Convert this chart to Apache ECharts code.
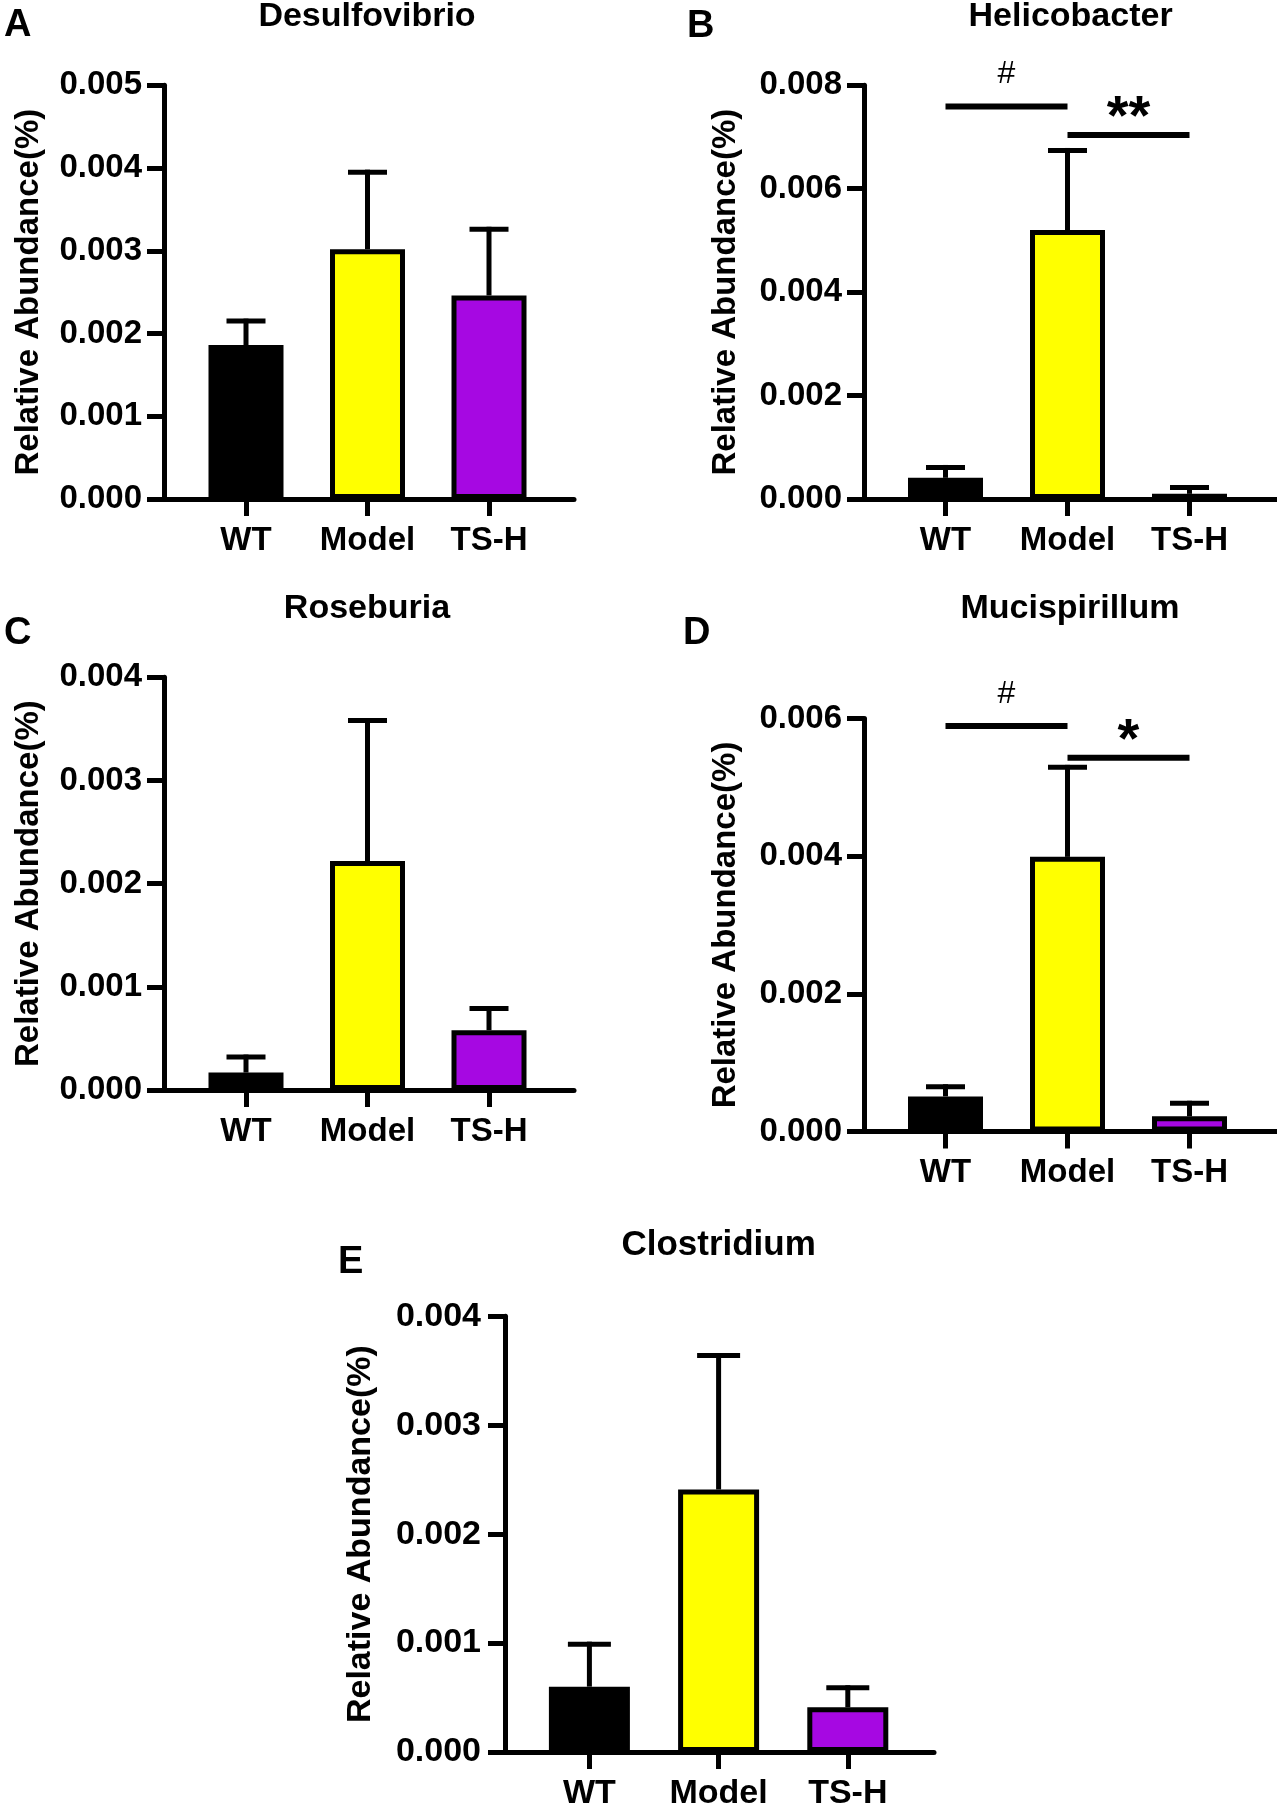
<!DOCTYPE html>
<html><head><meta charset="utf-8">
<script src="https://cdn.jsdelivr.net/npm/echarts@6.0.0/dist/echarts.min.js"></script>
<style>html,body{margin:0;padding:0;background:#fff}#c{width:1277px;height:1813px}</style>
</head><body><div id="c"></div>
<script>
// ---- data ----
const categories = ['WT', 'Model', 'TS-H'];
const barColors = ['#000000', '#FFFF00', '#A608E2'];

const desulfovibrioMean = [0.00186, 0.00302, 0.00246];
const desulfovibrioSD   = [0.00029, 0.00093, 0.00080];
const helicobacterMean  = [0.00041, 0.00520, 0.00010];
const helicobacterSD    = [0.00020, 0.00154, 0.00012];
const roseburiaMean     = [0.00017, 0.00222, 0.00058];
const roseburiaSD       = [0.00015, 0.00136, 0.00021];
const mucispirillumMean = [0.00051, 0.00399, 0.00022];
const mucispirillumSD   = [0.00014, 0.00130, 0.00019];
const clostridiumMean   = [0.00060, 0.00241, 0.00041];
const clostridiumSD     = [0.00039, 0.00123, 0.00018];

const desulfovibrioAxis = [0, 0.005, 0.001];
const helicobacterAxis  = [0, 0.008, 0.002];
const roseburiaAxis     = [0, 0.004, 0.001];
const mucispirillumAxis = [0, 0.006, 0.002];
const clostridiumAxis   = [0, 0.004, 0.001];

const sigPairs = [[0, 1], [1, 2]];
const helicobacterSigY = [0.00759, 0.00704];
const helicobacterSigText = ['#', '**'];
const mucispirillumSigY = [0.00589, 0.00543];
const mucispirillumSigText = ['#', '*'];

const yAxisName = 'Relative Abundance(%)';

// ---- layout (pixels) ----
const FONT = '"Liberation Sans", Arial, Helvetica, sans-serif';
const panels = [
  {letter: 'A', title: 'Desulfovibrio', mean: desulfovibrioMean, sd: desulfovibrioSD, axis: desulfovibrioAxis,
   sig: null, L: {ax: 164, top: 85.3, zero: 499, end: 574, c0: 246, step: 121.5, bw: 75, cap: 39, fs: 33, tfs: 33, tm: 22, nameGap: 119,
   tx: 367, ty: 16.5, lx: 4, ly: 26}},
  {letter: 'B', title: 'Helicobacter', mean: helicobacterMean, sd: helicobacterSD, axis: helicobacterAxis,
   sig: {y: helicobacterSigY, text: helicobacterSigText}, L: {ax: 864, top: 85.3, zero: 499, end: 1280, c0: 945.5, step: 122, bw: 75, cap: 39, fs: 33, tfs: 33, tm: 22, nameGap: 122,
   tx: 1070.6, ty: 16.5, lx: 687, ly: 26.5}},
  {letter: 'C', title: 'Roseburia', mean: roseburiaMean, sd: roseburiaSD, axis: roseburiaAxis,
   sig: null, L: {ax: 164, top: 677.2, zero: 1090.1, end: 574, c0: 246, step: 121.5, bw: 75, cap: 39, fs: 33, tfs: 33, tm: 22, nameGap: 119,
   tx: 367, ty: 608.3, lx: 4, ly: 634}},
  {letter: 'D', title: 'Mucispirillum', mean: mucispirillumMean, sd: mucispirillumSD, axis: mucispirillumAxis,
   sig: {y: mucispirillumSigY, text: mucispirillumSigText}, L: {ax: 864, top: 718.5, zero: 1131.5, end: 1280, c0: 945.5, step: 122, bw: 75, cap: 39, fs: 33, tfs: 33, tm: 22, nameGap: 122,
   tx: 1070, ty: 608.3, lx: 683, ly: 634}},
  {letter: 'E', title: 'Clostridium', mean: clostridiumMean, sd: clostridiumSD, axis: clostridiumAxis,
   sig: null, L: {ax: 505, top: 1316.3, zero: 1752, end: 934, c0: 589.4, step: 129.2, bw: 81, cap: 43, fs: 34, tfs: 34, tm: 24, nameGap: 127,
   tx: 718.6, ty: 1245.7, lx: 338, ly: 1263}}
];

const grid = [], xAxis = [], yAxis = [], series = [], title = [];

panels.forEach((p, i) => {
  const L = p.L;
  const gA = 2 * i, gB = 2 * i + 1;
  const h = L.zero - L.top;
  grid.push({left: L.ax, top: L.top, width: L.end - L.ax, height: h, outerBoundsMode: 'none', containLabel: false});
  grid.push({left: L.c0 - L.step / 2, top: L.top, width: L.step * 3, height: h, outerBoundsMode: 'none', containLabel: false});

  xAxis.push({gridIndex: gA, type: 'category', data: categories,
    axisLine: {show: true, lineStyle: {color: '#000', width: 5}},
    axisTick: {show: false}, axisLabel: {show: false}, splitLine: {show: false}});
  xAxis.push({gridIndex: gB, type: 'category', data: categories,
    axisLine: {show: false},
    axisTick: {show: true, alignWithLabel: true, interval: 0, length: 17, lineStyle: {color: '#000', width: 5}},
    axisLabel: {show: true, interval: 0, hideOverlap: false, margin: 25, color: '#000', fontSize: L.fs, fontWeight: 'bold', fontFamily: FONT, lineHeight: L.fs},
    splitLine: {show: false}});

  yAxis.push({gridIndex: gA, type: 'value', min: p.axis[0], max: p.axis[1], interval: p.axis[2],
    name: yAxisName, nameLocation: 'middle', nameGap: L.nameGap, nameRotate: 90,
    nameTextStyle: {color: '#000', fontSize: L.fs, fontWeight: 'bold', fontFamily: FONT, lineHeight: L.fs},
    axisLine: {show: true, lineStyle: {color: '#000', width: 5}},
    axisTick: {show: true, length: 17, lineStyle: {color: '#000', width: 5}},
    axisLabel: {show: true, margin: L.tm, color: '#000', fontSize: L.tfs, fontWeight: 'bold', fontFamily: FONT,
      formatter: v => v.toFixed(3)},
    splitLine: {show: false}});
  yAxis.push({gridIndex: gB, type: 'value', min: p.axis[0], max: p.axis[1], interval: p.axis[2], show: false,
    splitLine: {show: false}});

  const cap = L.cap;
  series.push({type: 'custom', xAxisIndex: gB, yAxisIndex: gB, z: 3, clip: false,
    encode: {x: 0, y: 1},
    data: p.mean.map((m, k) => [k, m, p.sd[k]]),
    renderItem: (params, api) => {
      const k = api.value(0), m = api.value(1), s = api.value(2);
      const b = api.coord([k, m]);
      const t = api.coord([k, m + s]);
      return {type: 'group', children: [
        {type: 'line', shape: {x1: b[0], y1: b[1], x2: t[0], y2: t[1] - 2.5}, style: {stroke: '#000', lineWidth: 5}},
        {type: 'line', shape: {x1: t[0] - cap / 2, y1: t[1], x2: t[0] + cap / 2, y2: t[1]}, style: {stroke: '#000', lineWidth: 5}}
      ]};
    }});

  series.push({type: 'bar', xAxisIndex: gB, yAxisIndex: gB, z: 4, barWidth: L.bw,
    data: p.mean.map((m, k) => ({value: m, itemStyle: {color: barColors[k]}})),
    itemStyle: {borderColor: '#000', borderWidth: 5}});

  if (p.sig) {
    const sig = p.sig;
    series.push({type: 'custom', xAxisIndex: gB, yAxisIndex: gB, z: 5, clip: false,
      encode: {x: [0, 1], y: 2},
      data: sig.y.map((y, k) => [sigPairs[k][0], sigPairs[k][1], y]),
      renderItem: (params, api) => {
        const y = api.value(2);
        const a = api.coord([api.value(0), y]);
        const b = api.coord([api.value(1), y]);
        const txt = sig.text[params.dataIndex];
        const hash = txt === '#';
        return {type: 'group', children: [
          {type: 'line', shape: {x1: a[0], y1: a[1], x2: b[0], y2: b[1]}, style: {stroke: '#000', lineWidth: 6}},
          {type: 'text', x: (a[0] + b[0]) / 2, y: a[1] - (hash ? 32 : 16),
           style: {text: txt, fill: '#000', align: 'center', verticalAlign: 'middle',
             font: (hash ? 'normal 32px ' : 'bold 56px ') + FONT}}
        ]};
      }});
  }

  title.push({text: p.title, left: L.tx, top: L.ty - (L.fs + 1) / 2, textAlign: 'center', padding: 0,
    textStyle: {color: '#000', fontSize: L.fs + 1, fontWeight: 'bold', fontFamily: FONT, lineHeight: L.fs + 1}});
  title.push({text: p.letter, left: L.lx, top: L.ly - 19, padding: 0,
    textStyle: {color: '#000', fontSize: 38, fontWeight: 'bold', fontFamily: FONT, lineHeight: 38}});
});

const chart = echarts.init(document.getElementById('c'), null, {renderer: 'canvas'});
chart.setOption({animation: false, backgroundColor: '#fff', title, grid, xAxis, yAxis, series});
</script>
</body></html>
